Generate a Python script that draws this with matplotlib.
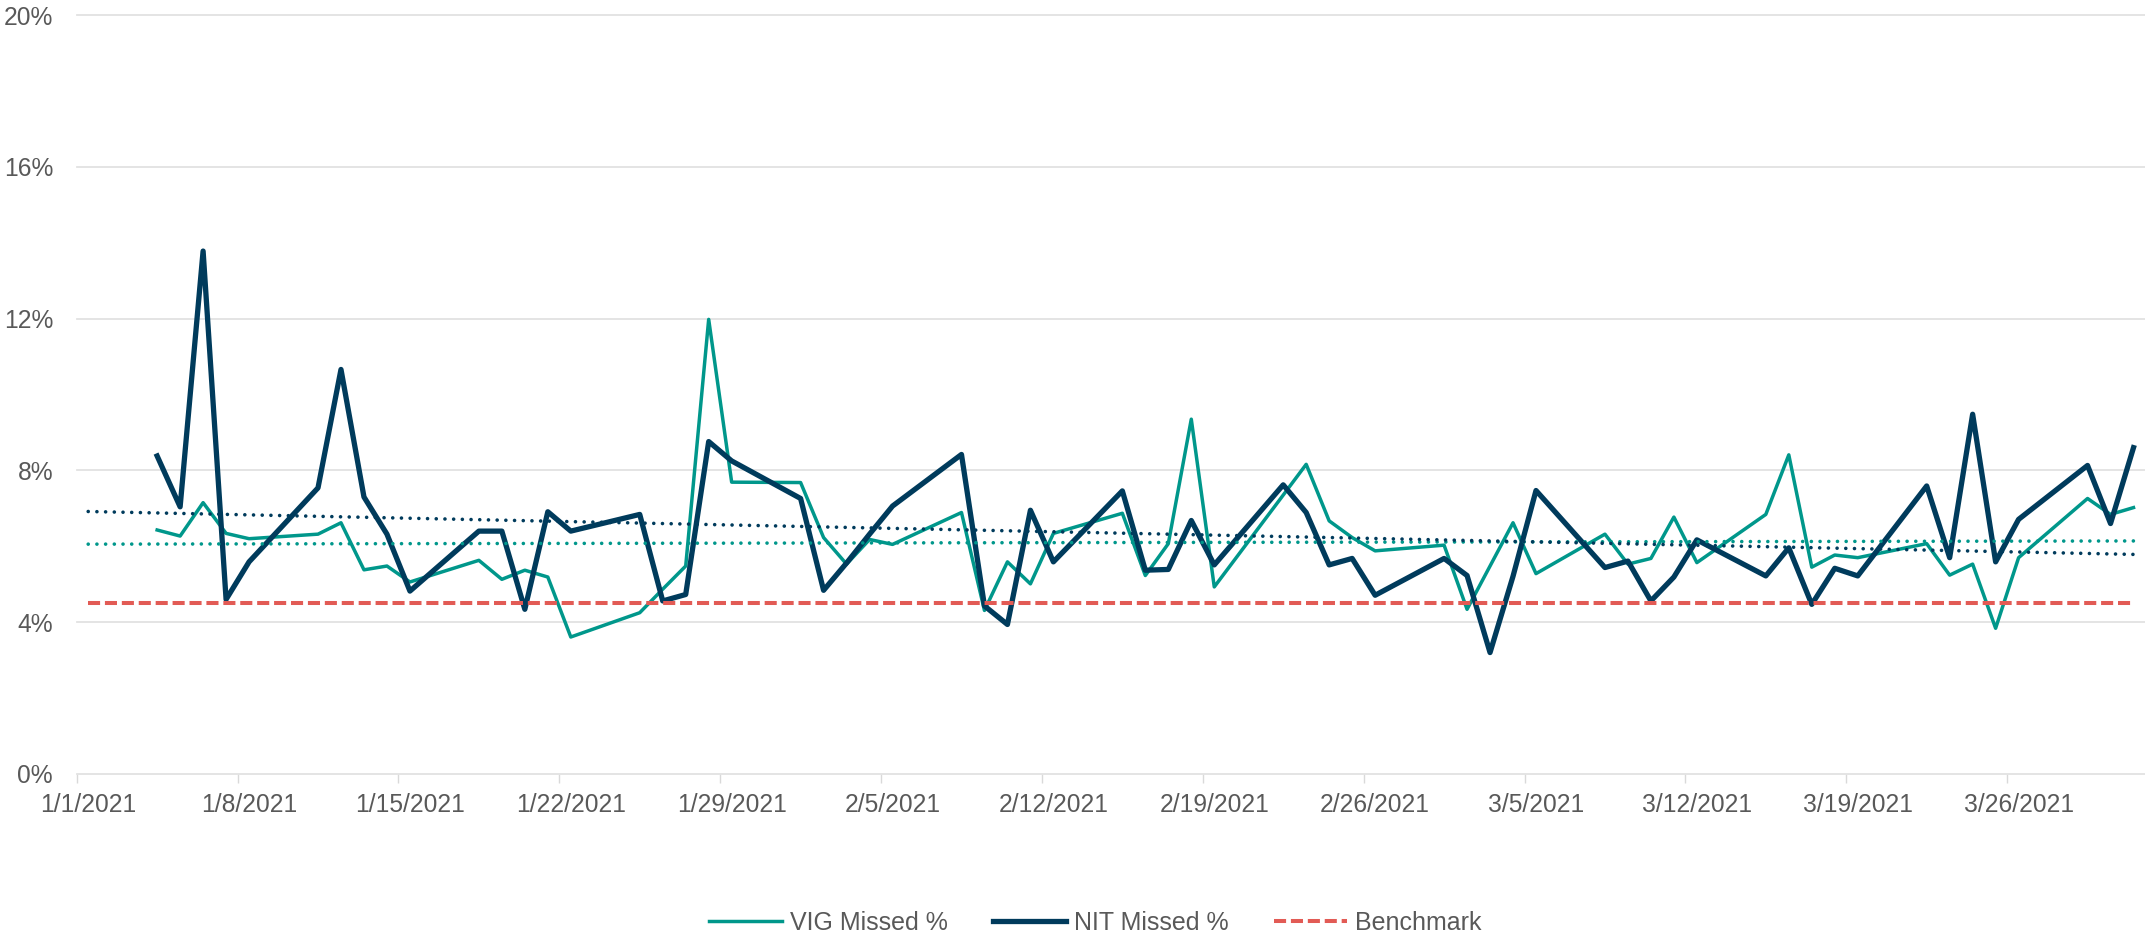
import numpy as np
import pandas as pd
import matplotlib
matplotlib.use('Agg')
import matplotlib.pyplot as plt
import matplotlib.dates as mdates
from matplotlib.ticker import PercentFormatter, NullFormatter

plt.rcParams['font.family'] = ['Liberation Sans', 'DejaVu Sans']

# Weekdays in Q1 2021 (no weekend values in the source data)
dates = pd.bdate_range('2021-01-04', '2021-03-31')

# Daily missed percentages
vig_missed = [6.43, 6.27, 7.15, 6.34, 6.20,
              6.32, 6.62, 5.38, 5.48, 5.06,
              5.63, 5.13, 5.37, 5.19, 3.61,
              4.25, 4.87, 5.48, 11.98, 7.69,
              7.68, 6.23, 5.53, 6.18, 6.05,
              6.89, 4.31, 5.59, 5.01, 6.34,
              6.87, 5.23, 6.07, 9.35, 4.93,
              7.35, 8.16, 6.67, 6.23, 5.88,
              6.03, 4.34, 5.48, 6.62, 5.28,
              6.32, 5.53, 5.68, 6.77, 5.57,
              6.84, 8.41, 5.45, 5.77, 5.70,
              6.07, 5.24, 5.53, 3.84, 5.70,
              7.26, 6.84, 7.02]
nit_missed = [8.38, 7.04, 13.78, 4.60, 5.59,
              7.54, 10.66, 7.30, 6.32, 4.82,
              6.40, 6.40, 4.34, 6.91, 6.40,
              6.84, 4.56, 4.73, 8.76, 8.25,
              7.26, 4.84, 5.56, 6.32, 7.06,
              8.42, 4.43, 3.94, 6.95, 5.59,
              7.46, 5.37, 5.39, 6.68, 5.51,
              7.62, 6.89, 5.51, 5.68, 4.71,
              5.68, 5.23, 3.20, 5.21, 7.47,
              5.44, 5.61, 4.56, 5.19, 6.17,
              5.22, 5.96, 4.47, 5.42, 5.22,
              7.59, 5.70, 9.48, 5.59, 6.71,
              8.13, 6.60, 8.60]

# Benchmark covers every calendar day of the quarter
benchmark_dates = pd.date_range('2021-01-01', '2021-03-31')
benchmark_value = 4.5

week_ticks = pd.date_range('2021-01-01', '2021-03-26', freq='7D')
week_labels = [f'{d.month}/{d.day}/{d.year}' for d in week_ticks]

TEAL = '#00978B'
NAVY = '#003B5C'
RED = '#E25B55'
GREY_TXT = '#595959'
GRID = '#E2E2E2'

# excel puts each day in the middle of its slot
half_day = pd.Timedelta(hours=12)
x = dates + half_day
xb = benchmark_dates + half_day

fig = plt.figure(figsize=(21.45, 9.36), dpi=100)
ax = fig.add_axes([0.03576, 0.17308, 0.96424, 0.81089])

ax.plot(x, vig_missed, color=TEAL, lw=2.5, label='VIG Missed %', zorder=3)
ax.plot(x, nit_missed, color=NAVY, lw=3.8, label='NIT Missed %', zorder=4)
ax.plot(xb, [benchmark_value] * len(xb), color=RED, lw=2.9,
        linestyle=(0, (3, 1.2)), label='Benchmark', zorder=5)

# linear trendlines, drawn across the whole quarter
xn = mdates.date2num(x)
xt = mdates.date2num(xb[[0, -1]])
for vals, col in [(vig_missed, TEAL), (nit_missed, NAVY)]:
    coef = np.polyfit(xn, vals, 1)
    ax.plot(xt, np.polyval(coef, xt), color=col, lw=2.6,
            linestyle=(0, (0.01, 2.4)), dash_capstyle='round', zorder=6)

ax.set_xlim(pd.Timestamp('2021-01-01'), pd.Timestamp('2021-04-01'))
ax.set_ylim(0, 20)

# tick marks at the week boundaries, labels centred on the day
ax.set_xticks(mdates.date2num(week_ticks))
ax.xaxis.set_major_formatter(NullFormatter())
ax.set_xticks(mdates.date2num(week_ticks + half_day), minor=True)
ax.set_xticklabels(week_labels, minor=True)
ax.tick_params(axis='x', which='major', length=6.5, width=1, color='#D9D9D9')
ax.tick_params(axis='x', which='minor', length=0, pad=14, labelsize=17.7,
               labelcolor=GREY_TXT)

ax.set_yticks(range(0, 21, 4))
ax.yaxis.set_major_formatter(PercentFormatter(decimals=0))
ax.tick_params(axis='y', length=0, pad=17, labelsize=17.7, labelcolor=GREY_TXT)

ax.grid(axis='y', color=GRID, lw=1.3)
for gl in ax.get_ygridlines():
    gl.set_clip_on(False)
ax.set_axisbelow(True)
for s in ax.spines.values():
    s.set_visible(False)

fig.legend(loc='center', bbox_to_anchor=(0.5105, 0.0139), ncol=3, frameon=False,
           fontsize=18, labelcolor=GREY_TXT, handlelength=2.92,
           handletextpad=0.32, columnspacing=1.8)

fig.savefig('out.png', dpi=100)
